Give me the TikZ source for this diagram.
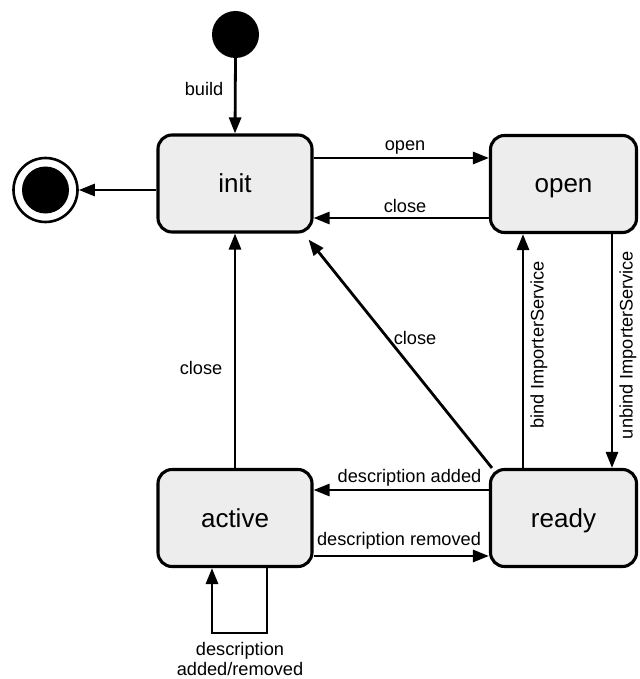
\documentclass[tikz,border=0pt]{standalone}
\usepackage{fontspec}
\setmainfont{Liberation Sans}
\usetikzlibrary{arrows.meta,calc}
\begin{document}
\begin{tikzpicture}[x=1pt,y=-1pt,
  state/.style={draw,line width=3.1pt,rounded corners=14pt,fill=stategray,
    minimum width=146pt,minimum height=97pt,inner sep=0pt,
    text height=18pt,text depth=0pt,
    font=\fontsize{26}{30}\selectfont},
  arr/.style={line width=2.8pt,-{Triangle[length=16pt,width=12pt]}},
  lbl/.style={inner sep=0pt,font=\fontsize{18.2}{20}\selectfont}]
\definecolor{stategray}{HTML}{EDEDED}
\useasboundingbox (0,0) rectangle (639,679);
\node[state,minimum width=154pt] (init) at (235,183.5) {init};
\node[state] (open) at (563.5,184) {open};
\node[state,minimum width=154pt] (active) at (235,518) {active};
\node[state] (ready) at (563.5,518) {ready};
\node[circle,fill=black,minimum size=47pt,inner sep=0pt] (start) at (235.5,34.5) {};
\node[circle,draw,line width=2.6pt,fill=white,minimum size=64pt,inner sep=0pt] (final) at (45.5,190) {};
\node[circle,fill=black,minimum size=47pt,inner sep=0pt] (finalin) at (final.center) {};
% edges
\draw[arr] (start.south) -- (init.north);
\draw[arr] (init.west |- 0,190) -- (final.east);
\draw[arr] (init.east |- 0,158) -- (open.west |- 0,158);
\draw[arr] (open.west |- 0,218) -- (init.east |- 0,218);
\draw[arr] ($(ready.north west)+(3,0)$) -- ($(init.south east)+(-5,6)$);
\draw[arr] (ready.north -| 523,0) -- (open.south -| 523,0);
\draw[arr] (open.south -| 612,0) -- (ready.north -| 612,0);
\draw[arr] (active.north) -- (init.south);
\draw[arr] (ready.west |- 0,490) -- (active.east |- 0,490);
\draw[arr] (active.east |- 0,556) -- (ready.west |- 0,556);
\coordinate (l1) at (267,633);
\coordinate (l2) at (212,633);
\draw[arr] (active.south -| l1) -- (l1) -- (l2) -- (active.south -| l2);
% labels
\node[lbl] (lbuild) at (204,89) {build};
\node[lbl] (lopen) at (405,147) {open};
\node[lbl] (lclose1) at (405,206) {close};
\node[lbl] (lclose2) at (415,338) {close};
\node[lbl] (lclose3) at (201,368) {close};
\node[lbl,rotate=90] (lbind) at (539,345) {bind ImporterService};
\node[lbl,rotate=90] (lunbind) at (628,345) {unbind ImporterService};
\node[lbl] (ladded) at (409.5,478) {description added};
\node[lbl] (lremoved) at (399,541) {description removed};
\node[lbl,align=center] (lself) at (240,659) {description\\added/removed};
\end{tikzpicture}
\end{document}
